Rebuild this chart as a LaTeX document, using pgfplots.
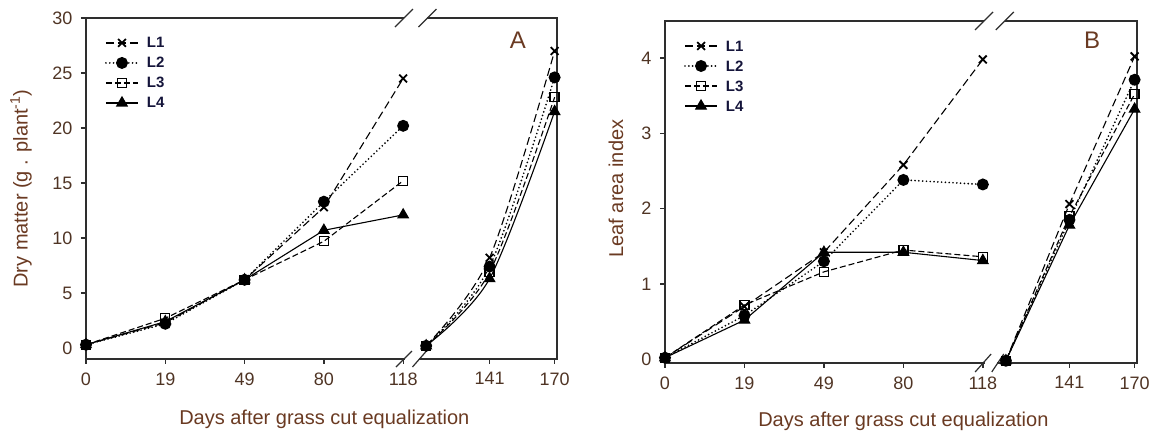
\documentclass[border=0pt]{standalone}
\usepackage{fontspec}
\setmainfont{Liberation Sans}
\usepackage{pgfplots}
\usepackage{pgfplotstable}
\pgfplotsset{compat=1.18}
\definecolor{txt}{HTML}{4F3424}
\definecolor{lab}{HTML}{6A3A22}
\definecolor{ax}{HTML}{2E2E2E}
\definecolor{leg}{HTML}{14143A}

% Panel A: dry matter
\pgfplotstableread{
x L1 L2 L3 L4
0 0.3 0.3 0.3 0.3
1 2.3 2.2 2.7 2.4
2 6.2 6.2 6.2 6.2
3 12.8 13.3 9.7 10.7
4 24.5 20.2 15.2 12.1
}\dmA
\pgfplotstableread{
x L1 L2 L3 L4
4.29 0.2 0.2 0.2 0.2
5.09 8.2 7.4 6.9 6.3
5.91 27.0 24.6 22.8 21.5
}\dmB
% Panel B: leaf area index
\pgfplotstableread{
x L1 L2 L3 L4
0 0.02 0.02 0.02 0.02
1 0.70 0.58 0.72 0.52
2 1.42 1.30 1.16 1.42
3 2.58 2.38 1.45 1.42
4 3.98 2.32 1.36 1.31
}\laA
\pgfplotstableread{
x L1 L2 L3 L4
4.29 -0.02 -0.02 -0.02 -0.02
5.09 2.06 1.85 1.90 1.78
5.91 4.02 3.71 3.52 3.32
}\laB

\pgfplotsset{
 sA/.style={black, line width=1.1pt, dash pattern=on 8pt off 4pt, mark=x, mark size=5.5pt, mark options={solid, line width=1.8pt}},
 sB/.style={black, line width=1.9pt, line cap=round, dash pattern=on 0pt off 3.8pt, mark=*, mark size=5pt, mark options={solid}},
 sC/.style={black, line width=1.1pt, dash pattern=on 6pt off 3pt, mark=square, mark size=4.5pt, mark options={solid, fill=white, line width=1.3pt}},
 sD/.style={black, line width=1.1pt, mark=triangle*, mark size=6pt, mark options={solid}},
 panel/.style={
  scale only axis, xmin=0, xmax=5.94, clip=false,
  axis line style={ax, line width=1.5pt},
  tick style={ax, line width=1.3pt},
  tick align=outside, major tick length=5pt,
  xtick pos=left, ytick pos=left,
  xtick={0,1,2,3,4,5.09,5.91},
  xticklabels={0,19,49,80,118,141,170},
  ticklabel style={font=\fontsize{18}{18}\selectfont, text=txt},
  xticklabel style={yshift=-5pt},
  yticklabel style={xshift=-5pt},
  /pgf/number format/assume math mode=true,
  label style={font=\fontsize{20}{20}\selectfont, text=lab},
  xlabel={Days after grass cut equalization},
  legend cell align=left,
  legend image code/.code={\draw[mark repeat=2,mark phase=2] plot coordinates {(0pt,0pt) (16pt,0pt) (32pt,0pt)};},
  legend style={draw=none, fill=none, at={(axis description cs:0.04,0.945)}, anchor=north west,
    font=\fontsize{15}{15}\selectfont\bfseries, text=leg, inner sep=0pt, row sep=8pt, column sep=8pt,
    nodes={inner sep=0pt, text height=11pt, text depth=1pt}},
 }
}

\begin{document}
\begin{tikzpicture}
\path[use as bounding box] (0,0) rectangle (1160pt,439pt);
% ---------------- Panel A
\begin{axis}[panel, at={(86pt,80pt)}, anchor=south west, width=471pt, height=341pt,
  ymin=-1, ymax=30, ytick={0,5,10,15,20,25,30},
  ylabel={Dry matter (g . plant\textsuperscript{-1})},
  ylabel style={at={(axis description cs:-0.138,0.5)}, anchor=center},
  xlabel style={at={(axis description cs:0.506,-0.176)}, anchor=center}]
\addplot[sA] table[x=x,y=L1] {\dmA};
\addplot[sB] table[x=x,y=L2] {\dmA};
\addplot[sC] table[x=x,y=L3] {\dmA};
\addplot[sD] table[x=x,y=L4] {\dmA};
\legend{L1,L2,L3,L4}
\addplot[sA, smooth, tension=0.5, forget plot] table[x=x,y=L1] {\dmB};
\addplot[sB, smooth, tension=0.5, forget plot] table[x=x,y=L2] {\dmB};
\addplot[sC, smooth, tension=0.5, forget plot] table[x=x,y=L3] {\dmB};
\addplot[sD, smooth, tension=0.5, forget plot] table[x=x,y=L4] {\dmB};
\draw[white, line width=4pt] (axis description cs:0.675,1) -- (axis description cs:0.725,1);
\draw[white, line width=4pt] (axis description cs:0.677,0) -- (axis description cs:0.706,0);
\draw[ax, line width=1.2pt] (axis description cs:0.675,1) ++(-9pt,-9pt) -- ++(18pt,18pt);
\draw[ax, line width=1.2pt] (axis description cs:0.725,1) ++(-9pt,-9pt) -- ++(18pt,18pt);
\draw[ax, line width=1.2pt] (axis description cs:0.675,0) ++(-8pt,-8pt) -- ++(16pt,16pt);
\draw[ax, line width=1.2pt] (axis description cs:0.708,0) ++(-7pt,-8pt) -- ++(14pt,16pt);
\node[font=\fontsize{24}{24}\selectfont, text=lab] at (axis description cs:0.917,0.935) {A};
\end{axis}
% ---------------- Panel B
\begin{axis}[panel, at={(665pt,76pt)}, anchor=south west, width=472pt, height=342pt,
  ymin=-0.05, ymax=4.49, ytick={0,1,2,3,4},
  ylabel={Leaf area index},
  ylabel style={at={(axis description cs:-0.104,0.51)}, anchor=center},
  xlabel style={at={(axis description cs:0.505,-0.17)}, anchor=center}]
\addplot[sA] table[x=x,y=L1] {\laA};
\addplot[sB] table[x=x,y=L2] {\laA};
\addplot[sC] table[x=x,y=L3] {\laA};
\addplot[sD] table[x=x,y=L4] {\laA};
\legend{L1,L2,L3,L4}
\addplot[sA, forget plot] table[x=x,y=L1] {\laB};
\addplot[sB, forget plot] table[x=x,y=L2] {\laB};
\addplot[sC, forget plot] table[x=x,y=L3] {\laB};
\addplot[sD, forget plot] table[x=x,y=L4] {\laB};
\draw[white, line width=4pt] (axis description cs:0.676,1) -- (axis description cs:0.72,1);
\draw[white, line width=4pt] (axis description cs:0.677,0) -- (axis description cs:0.703,0);
\draw[ax, line width=1.2pt] (axis description cs:0.676,1) ++(-9pt,-9pt) -- ++(18pt,18pt);
\draw[ax, line width=1.2pt] (axis description cs:0.72,1) ++(-9pt,-9pt) -- ++(18pt,18pt);
\draw[ax, line width=1.2pt] (axis description cs:0.674,0) ++(-8pt,-9pt) -- ++(16pt,18pt);
\draw[ax, line width=1.2pt] (axis description cs:0.705,0) ++(-6pt,-9pt) -- ++(12pt,18pt);
\node[font=\fontsize{24}{24}\selectfont, text=lab] at (axis description cs:0.905,0.944) {B};
\end{axis}
\end{tikzpicture}
\end{document}
